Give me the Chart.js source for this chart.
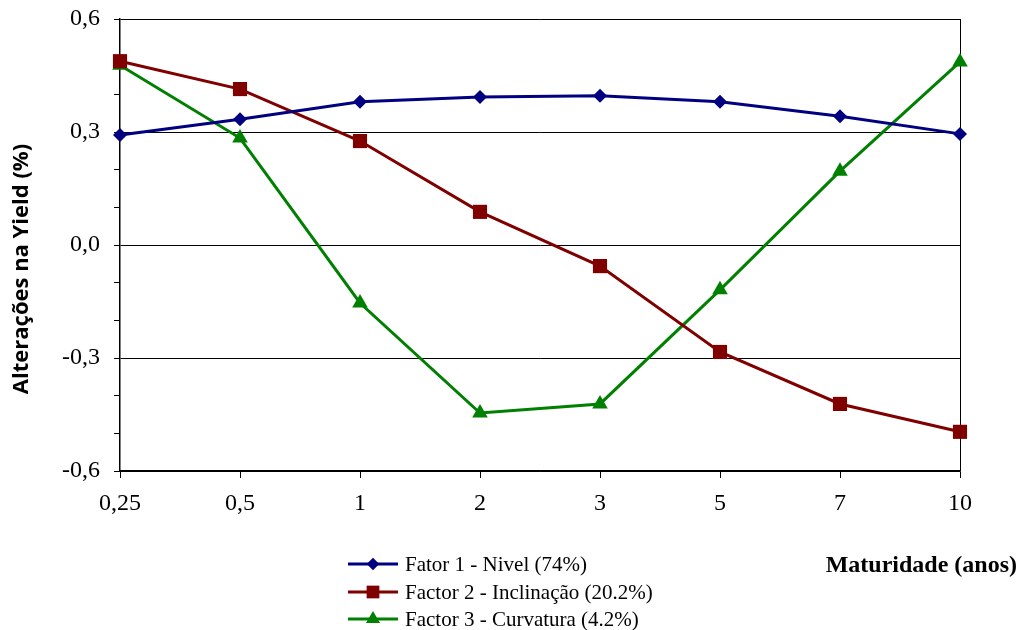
<!DOCTYPE html>
<html>
<head>
<meta charset="utf-8">
<script src="https://cdn.jsdelivr.net/npm/chart.js"></script>
<style>
html,body{margin:0;padding:0;background:#fff;}
#wrap{width:1022px;height:630px;position:relative;}
</style>
</head>
<body>
<div id="wrap"><canvas id="c" width="1022" height="630"></canvas></div>
<script>
const categories = ["0,25","0,5","1","2","3","5","7","10"];
const fator1 = [0.292, 0.334, 0.380, 0.393, 0.396, 0.380, 0.342, 0.295];
const fator2 = [0.488, 0.414, 0.276, 0.088, -0.056, -0.284, -0.422, -0.496];
const fator3 = [0.477, 0.284, -0.154, -0.446, -0.422, -0.119, 0.196, 0.486];
const seriesNames = ["Fator 1 - Nivel (74%)", "Factor 2 - Inclinação (20.2%)", "Factor 3 - Curvatura (4.2%)"];
const yTitle = "Alterações na Yield (%)";
const xTitle = "Maturidade (anos)";

const colors = ["#000080", "#800000", "#008000"];
const styles = ["rectRot", "rect", "triangle"];
const radii = [7, 10, 9];
const serif = "'Liberation Serif', 'Times New Roman', serif";

function marker(ctx, style, x, y, r, color) {
  ctx.save();
  ctx.fillStyle = color;
  ctx.beginPath();
  if (style === "rectRot") {
    ctx.moveTo(x - r, y); ctx.lineTo(x, y - r); ctx.lineTo(x + r, y); ctx.lineTo(x, y + r);
  } else if (style === "rect") {
    const s = Math.SQRT1_2 * r;
    ctx.rect(x - s, y - s, 2 * s, 2 * s);
  } else {
    const a = 2 * Math.PI / 3;
    let rad = 0;
    ctx.moveTo(x + Math.sin(rad) * r, y - Math.cos(rad) * r);
    rad += a; ctx.lineTo(x + Math.sin(rad) * r, y - Math.cos(rad) * r);
    rad += a; ctx.lineTo(x + Math.sin(rad) * r, y - Math.cos(rad) * r);
  }
  ctx.closePath();
  ctx.fill();
  ctx.restore();
}

const extras = {
  id: "extras",
  afterDraw(chart) {
    const ctx = chart.ctx;
    ctx.save();
    ctx.fillStyle = "#000";
    ctx.font = "bold 22px 'Open Sans', 'Liberation Sans', sans-serif";
    ctx.textAlign = "center";
    ctx.textBaseline = "middle";
    ctx.translate(22, 269);
    ctx.rotate(-Math.PI / 2);
    ctx.fillText(yTitle, 0, 0);
    ctx.restore();

    ctx.save();
    ctx.fillStyle = "#000";
    ctx.font = "bold 24px " + serif;
    ctx.textAlign = "right";
    ctx.textBaseline = "middle";
    ctx.fillText(xTitle, 1017, 566);
    ctx.restore();

    const rows = [564, 592, 619];
    ctx.save();
    ctx.font = "21px " + serif;
    ctx.textBaseline = "middle";
    ctx.textAlign = "left";
    for (let i = 0; i < 3; i++) {
      const y = rows[i];
      ctx.strokeStyle = colors[i];
      ctx.lineWidth = 3;
      ctx.beginPath(); ctx.moveTo(348, y); ctx.lineTo(398, y); ctx.stroke();
      marker(ctx, styles[i], 373, y, radii[i] * 0.9, colors[i]);
      ctx.fillStyle = "#000";
      ctx.fillText(seriesNames[i], 405, y + 1);
    }
    ctx.restore();
  }
};

function mkDs(label, data, i) {
  return {
    label: label, data: data,
    borderColor: colors[i], backgroundColor: colors[i],
    borderWidth: 3, pointStyle: styles[i], pointRadius: radii[i],
    pointHoverRadius: radii[i], pointBorderWidth: 0, tension: 0
  };
}

new Chart(document.getElementById("c"), {
  type: "line",
  data: {
    labels: categories,
    datasets: [mkDs(seriesNames[0], fator1, 0), mkDs(seriesNames[1], fator2, 1), mkDs(seriesNames[2], fator3, 2)]
  },
  options: {
    responsive: false,
    animation: false,
    events: [],
    layout: { padding: { left: 0, right: 62, top: 19, bottom: 109 } },
    plugins: { legend: { display: false }, tooltip: { enabled: false } },
    scales: {
      x: {
        type: "category",
        offset: false,
        afterFit(s) { s.height = 50; s.paddingLeft = 0; s.paddingRight = 0; },
        grid: {
          offset: false,
          drawOnChartArea: true,
          color: (c) => (c.index === categories.length - 1 ? "#000" : "rgba(0,0,0,0)"),
          tickColor: "#000",
          tickLength: 7,
          lineWidth: 1
        },
        border: { color: "#000", width: 1.5 },
        ticks: {
          color: "#000", padding: 11, maxRotation: 0, autoSkip: false,
          font: { family: serif, size: 24 }
        }
      },
      y: {
        min: -0.6, max: 0.6,
        afterFit(s) { s.width = 120; s.paddingTop = 0; s.paddingBottom = 0; },
        grid: {
          color: (c) => (Math.round(c.tick.value * 10) % 3 === 0 ? "#000" : "rgba(0,0,0,0)"),
          tickColor: "#000",
          tickLength: 6,
          lineWidth: 1
        },
        border: { color: "#000", width: 1.5 },
        ticks: {
          stepSize: 0.1, color: "#000", padding: 14,
          font: { family: serif, size: 24 },
          callback: (v) => {
            const k = Math.round(v * 10);
            if (k % 3 !== 0) return "";
            return (k / 10).toFixed(1).replace(".", ",");
          }
        }
      }
    }
  },
  plugins: [extras]
});
</script>
</body>
</html>
